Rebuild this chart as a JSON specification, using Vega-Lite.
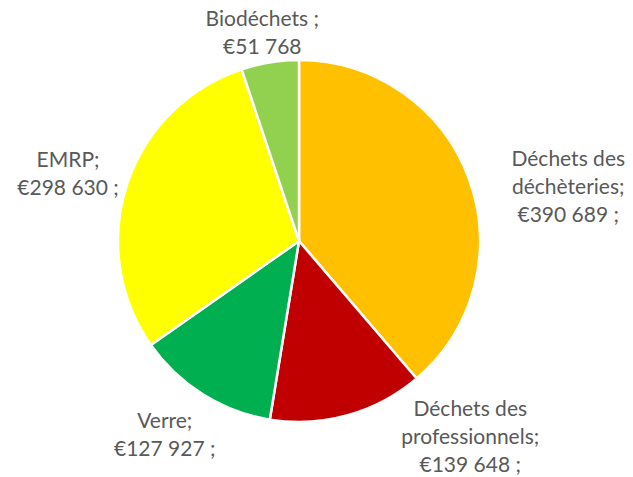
{
  "$schema": "https://vega.github.io/schema/vega-lite/v6.json",
  "width": 598,
  "height": 472,
  "autosize": "none",
  "padding": {"left": 0, "right": 35, "top": 5, "bottom": 0},
  "background": "white",
  "data": {
    "values": [
      {"ordre": 1, "categorie": "Déchets des déchèteries", "valeur": 390689, "label": ["Déchets des", "déchèteries;", "€390 689 ;"]},
      {"ordre": 2, "categorie": "Déchets des professionnels", "valeur": 139648, "label": ["Déchets des", "professionnels;", "€139 648 ;"]},
      {"ordre": 3, "categorie": "Verre", "valeur": 127927, "label": ["Verre;", "€127 927 ;"]},
      {"ordre": 4, "categorie": "EMRP", "valeur": 298630, "label": ["EMRP;", "€298 630 ;"]},
      {"ordre": 5, "categorie": "Biodéchets", "valeur": 51768, "label": ["Biodéchets ;", "€51 768"]}
    ]
  },
  "encoding": {
    "theta": {"field": "valeur", "type": "quantitative", "stack": true},
    "order": {"field": "ordre", "type": "quantitative"}
  },
  "layer": [
    {
      "mark": {"type": "arc", "outerRadius": 181, "stroke": "white", "strokeWidth": 2.5},
      "encoding": {
        "color": {
          "field": "categorie",
          "type": "nominal",
          "scale": {
            "domain": ["Déchets des déchèteries", "Déchets des professionnels", "Verre", "EMRP", "Biodéchets"],
            "range": ["#FFC000", "#C00000", "#00B050", "#FFFF00", "#92D050"]
          },
          "legend": null
        }
      }
    },
    {
      "mark": {"type": "text", "radius": 270, "dx": 16, "dy": 13, "font": "Lato", "fontSize": 21, "lineHeight": 28, "color": "#595959", "align": "center", "baseline": "middle"},
      "encoding": {"text": {"condition": {"test": "datum.ordre === 1", "field": "label"}, "value": ""}}
    },
    {
      "mark": {"type": "text", "radius": 205, "dx": 116, "dy": -28, "font": "Lato", "fontSize": 21, "lineHeight": 28, "color": "#595959", "align": "center", "baseline": "middle"},
      "encoding": {"text": {"condition": {"test": "datum.ordre === 2", "field": "label"}, "value": ""}}
    },
    {
      "mark": {"type": "text", "radius": 230, "dx": -12, "dy": -14, "font": "Lato", "fontSize": 21, "lineHeight": 28, "color": "#595959", "align": "center", "baseline": "middle"},
      "encoding": {"text": {"condition": {"test": "datum.ordre === 3", "field": "label"}, "value": ""}}
    },
    {
      "mark": {"type": "text", "radius": 240, "dx": -3, "dy": -5, "font": "Lato", "fontSize": 21, "lineHeight": 28, "color": "#595959", "align": "center", "baseline": "middle"},
      "encoding": {"text": {"condition": {"test": "datum.ordre === 4", "field": "label"}, "value": ""}}
    },
    {
      "mark": {"type": "text", "radius": 210, "dx": -3, "dy": -14, "font": "Lato", "fontSize": 21, "lineHeight": 28, "color": "#595959", "align": "center", "baseline": "middle"},
      "encoding": {"text": {"condition": {"test": "datum.ordre === 5", "field": "label"}, "value": ""}}
    }
  ]
}
